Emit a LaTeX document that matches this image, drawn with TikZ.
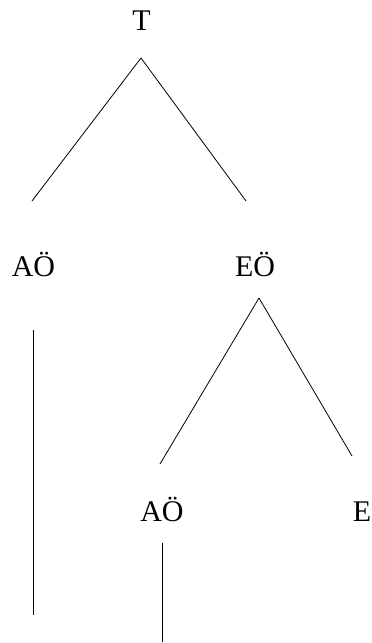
\documentclass[tikz,border=0pt]{standalone}
\usepackage{fontspec}
\setmainfont{Liberation Serif}
\usepackage{tikz}
\usetikzlibrary{positioning}

\begin{document}
\begin{tikzpicture}[
                x=1pt, y=1pt,
                font=\fontsize{30}{36}\selectfont,
                lbl/.style={inner sep=0pt, anchor=base},
                branch/.style={line width=0.8pt, black},
            ]
            \useasboundingbox (0,0) rectangle (372,643);
            \node[lbl] (root) at (141.5, 612) {T};
            \node[lbl] (aoA) at (33.5, 366) {AÖ};
            \node[lbl] (eo) at (255, 366) {EÖ};
            \node[lbl] (aoB) at (162, 121) {AÖ};
            \node[lbl] (e) at (362, 121) {E};

            \coordinate (aoAend) at ([yshift=-338pt]aoA.base);
            \coordinate (aoBend) at ([yshift=-120pt]aoB.base);

            \draw[branch] ([xshift=-0.5pt,yshift=-27pt]root.base) -- ([xshift=-1.5pt,yshift=76pt]aoA.base);
            \draw[branch] ([xshift=-0.5pt,yshift=-27pt]root.base) -- ([xshift=-9pt,yshift=76pt]eo.base);
            \draw[branch] ([xshift=4pt,yshift=-21pt]eo.base) -- ([xshift=-2pt,yshift=58pt]aoB.base);
            \draw[branch] ([xshift=4pt,yshift=-21pt]eo.base) -- ([xshift=-10pt,yshift=66pt]e.base);
            \draw[branch] ([yshift=-53pt]aoA.base) -- (aoAend);
            \draw[branch] ([yshift=-21pt]aoB.base) -- (aoBend);
        \end{tikzpicture}
\end{document}
